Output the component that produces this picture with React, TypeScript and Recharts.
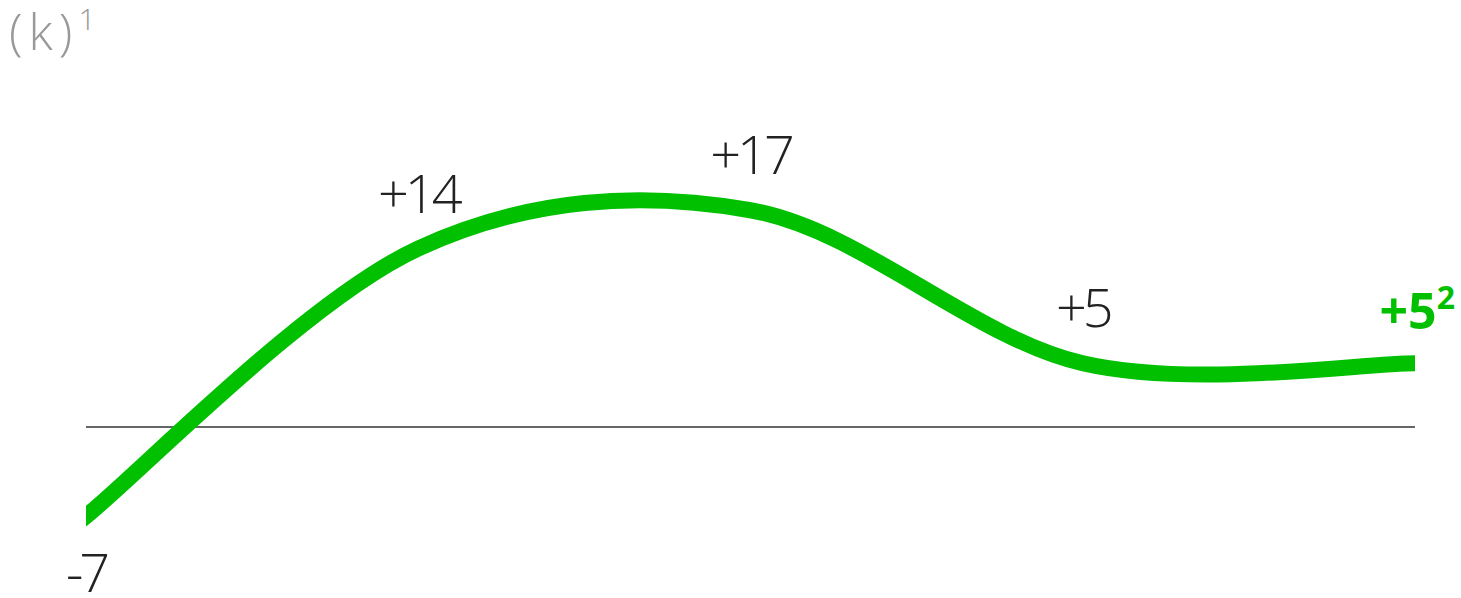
import * as React from "react";
import { LabelList, Line, LineChart, ReferenceLine, XAxis, YAxis } from "recharts";

const periods = ["1", "2", "3", "4", "5"];
const changes = [-7, 14, 17, 5, 5];
const unitLabel = "(k)";
const unitNote = "1";
const lastNote = "2";

const GREEN = "#00c000";
const INK = "#222222";
const FONT = "'Open Sans', sans-serif";

const W = 1461;
const H = 598;
const MARGIN = { top: 95.5, right: 46, bottom: 18, left: 86 };

const data = periods.map((p, i) => ({ period: p, value: changes[i] }));

function fmt(v: number) {
  return v > 0 ? `+${v}` : `${v}`;
}

// uniform Catmull-Rom through every point, end points repeated (d3 curveCardinal, tension 0)
function catmullRom(context: any) {
  let pts: [number, number][] = [];
  return {
    areaStart() {},
    areaEnd() {},
    lineStart() {
      pts = [];
    },
    point(x: number, y: number) {
      pts.push([+x, +y]);
    },
    lineEnd() {
      if (!pts.length) return;
      context.moveTo(pts[0][0], pts[0][1]);
      for (let i = 0; i < pts.length - 1; i++) {
        const p0 = pts[Math.max(i - 1, 0)];
        const p1 = pts[i];
        const p2 = pts[i + 1];
        const p3 = pts[Math.min(i + 2, pts.length - 1)];
        context.bezierCurveTo(
          p1[0] + (p2[0] - p0[0]) / 6,
          p1[1] + (p2[1] - p0[1]) / 6,
          p2[0] - (p3[0] - p1[0]) / 6,
          p2[1] - (p3[1] - p1[1]) / 6,
          p2[0],
          p2[1],
        );
      }
    },
  };
}

function PointLabel(props: any) {
  const { x, y, value, index } = props;
  if (index === data.length - 1) {
    return (
      <text
        x={x + 40}
        y={y - 34}
        textAnchor="end"
        fill={GREEN}
        fontFamily={FONT}
        fontWeight={700}
        fontSize={50}
      >
        {fmt(value)}
        <tspan fontSize={32} dy={-20}>
          {lastNote}
        </tspan>
      </text>
    );
  }
  const below = value < 0;
  return (
    <text
      x={x}
      y={below ? y + 76 : y - 36}
      textAnchor="middle"
      fill={INK}
      fontFamily={FONT}
      fontWeight={300}
      fontSize={54}
      letterSpacing={-4}
    >
      {fmt(value)}
    </text>
  );
}

export default function App() {
  return (
    <div style={{ position: "absolute", left: 0, top: 0, width: W, height: H, background: "#fff" }}>
      {/* square caps, cut flush at the plot edges */}
      <style>{`.recharts-line-curve { clip-path: url(#plot-clip); stroke-linecap: square; }`}</style>
      <svg width={0} height={0} style={{ position: "absolute" }}>
        <defs>
          <clipPath id="plot-clip" clipPathUnits="userSpaceOnUse">
            <rect x={MARGIN.left} y={0} width={W - MARGIN.left - MARGIN.right} height={H} />
          </clipPath>
        </defs>
      </svg>
      <div
        style={{
          position: "absolute",
          left: 9,
          top: 6,
          fontFamily: FONT,
          fontWeight: 300,
          fontSize: 50,
          letterSpacing: 6,
          color: "#999",
          lineHeight: 1,
          zIndex: 1,
        }}
      >
        {unitLabel}
        <span style={{ fontSize: 30, verticalAlign: "top", position: "relative", top: -2 }}>{unitNote}</span>
      </div>
      <LineChart width={W} height={H} data={data} margin={MARGIN}>
        <XAxis dataKey="period" hide padding={{ left: 0, right: 0 }} />
        <YAxis hide domain={[-12, 26]} />
        <ReferenceLine y={0} stroke="#333" strokeWidth={1.5} />
        <Line
          type={catmullRom as any}
          dataKey="value"
          stroke={GREEN}
          strokeWidth={16}
          strokeLinecap="square"
          dot={false}
          isAnimationActive={false}
        >
          <LabelList dataKey="value" content={PointLabel} />
        </Line>
      </LineChart>
    </div>
  );
}
